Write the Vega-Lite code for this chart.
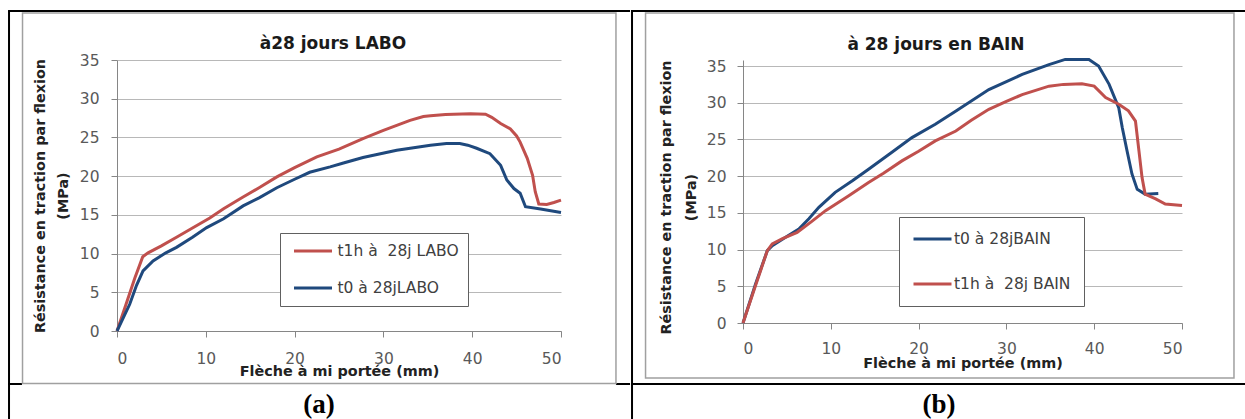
{
  "$schema": "https://vega.github.io/schema/vega-lite/v6.json",
  "padding": {"left": 7, "top": 9, "right": 0, "bottom": 0},
  "spacing": -2,
  "background": "white",
  "config": {
    "font": "DejaVu Sans",
    "view": {"stroke": null},
    "axis": {
      "domainColor": "#868686",
      "tickColor": "#868686",
      "tickSize": 6,
      "labelOverlap": false,
      "labelFont": "DejaVu Sans",
      "labelFontSize": 15.5,
      "labelColor": "#595959",
      "titleFont": "DejaVu Sans",
      "titleFontSize": 14.4,
      "titleFontWeight": "bold",
      "titleColor": "#222222",
      "gridColor": "#b8b8b8",
      "gridWidth": 1
    }
  },
  "resolve": {
    "scale": {"color": "independent"},
    "legend": {"color": "independent"}
  },
  "datasets": {
    "labo": [
      {"x": 0, "y": 0, "serie": "t1h à \u00a028j LABO"},
      {"x": 1, "y": 3.4, "serie": "t1h à \u00a028j LABO"},
      {"x": 2, "y": 6.8, "serie": "t1h à \u00a028j LABO"},
      {"x": 2.9, "y": 9.6, "serie": "t1h à \u00a028j LABO"},
      {"x": 3.5, "y": 10.1, "serie": "t1h à \u00a028j LABO"},
      {"x": 5, "y": 11, "serie": "t1h à \u00a028j LABO"},
      {"x": 6.7, "y": 12.1, "serie": "t1h à \u00a028j LABO"},
      {"x": 8.5, "y": 13.3, "serie": "t1h à \u00a028j LABO"},
      {"x": 10.45, "y": 14.6, "serie": "t1h à \u00a028j LABO"},
      {"x": 12, "y": 15.8, "serie": "t1h à \u00a028j LABO"},
      {"x": 14.2, "y": 17.3, "serie": "t1h à \u00a028j LABO"},
      {"x": 16, "y": 18.5, "serie": "t1h à \u00a028j LABO"},
      {"x": 18, "y": 19.9, "serie": "t1h à \u00a028j LABO"},
      {"x": 20, "y": 21.1, "serie": "t1h à \u00a028j LABO"},
      {"x": 22.5, "y": 22.5, "serie": "t1h à \u00a028j LABO"},
      {"x": 25, "y": 23.5, "serie": "t1h à \u00a028j LABO"},
      {"x": 27.7, "y": 24.85, "serie": "t1h à \u00a028j LABO"},
      {"x": 30, "y": 25.9, "serie": "t1h à \u00a028j LABO"},
      {"x": 31.5, "y": 26.55, "serie": "t1h à \u00a028j LABO"},
      {"x": 33, "y": 27.2, "serie": "t1h à \u00a028j LABO"},
      {"x": 34.5, "y": 27.7, "serie": "t1h à \u00a028j LABO"},
      {"x": 35.3, "y": 27.8, "serie": "t1h à \u00a028j LABO"},
      {"x": 37, "y": 27.95, "serie": "t1h à \u00a028j LABO"},
      {"x": 39.8, "y": 28.07, "serie": "t1h à \u00a028j LABO"},
      {"x": 41.5, "y": 28.0, "serie": "t1h à \u00a028j LABO"},
      {"x": 42.2, "y": 27.6, "serie": "t1h à \u00a028j LABO"},
      {"x": 43.2, "y": 26.8, "serie": "t1h à \u00a028j LABO"},
      {"x": 44.3, "y": 26.1, "serie": "t1h à \u00a028j LABO"},
      {"x": 45, "y": 25.2, "serie": "t1h à \u00a028j LABO"},
      {"x": 45.4, "y": 24.4, "serie": "t1h à \u00a028j LABO"},
      {"x": 46.2, "y": 22.3, "serie": "t1h à \u00a028j LABO"},
      {"x": 46.8, "y": 20.1, "serie": "t1h à \u00a028j LABO"},
      {"x": 47.1, "y": 18, "serie": "t1h à \u00a028j LABO"},
      {"x": 47.5, "y": 16.4, "serie": "t1h à \u00a028j LABO"},
      {"x": 48.4, "y": 16.35, "serie": "t1h à \u00a028j LABO"},
      {"x": 49.2, "y": 16.6, "serie": "t1h à \u00a028j LABO"},
      {"x": 50, "y": 16.9, "serie": "t1h à \u00a028j LABO"},
      {"x": 0, "y": 0, "serie": "t0 à 28jLABO"},
      {"x": 1.43, "y": 3.45, "serie": "t0 à 28jLABO"},
      {"x": 2.2, "y": 5.9, "serie": "t0 à 28jLABO"},
      {"x": 2.93, "y": 7.76, "serie": "t0 à 28jLABO"},
      {"x": 4.06, "y": 9.05, "serie": "t0 à 28jLABO"},
      {"x": 5.5, "y": 10.1, "serie": "t0 à 28jLABO"},
      {"x": 6.7, "y": 10.8, "serie": "t0 à 28jLABO"},
      {"x": 8.5, "y": 12.1, "serie": "t0 à 28jLABO"},
      {"x": 10.1, "y": 13.36, "serie": "t0 à 28jLABO"},
      {"x": 12, "y": 14.5, "serie": "t0 à 28jLABO"},
      {"x": 14.2, "y": 16.16, "serie": "t0 à 28jLABO"},
      {"x": 16, "y": 17.2, "serie": "t0 à 28jLABO"},
      {"x": 18, "y": 18.5, "serie": "t0 à 28jLABO"},
      {"x": 20, "y": 19.6, "serie": "t0 à 28jLABO"},
      {"x": 21.7, "y": 20.5, "serie": "t0 à 28jLABO"},
      {"x": 24, "y": 21.2, "serie": "t0 à 28jLABO"},
      {"x": 25.5, "y": 21.7, "serie": "t0 à 28jLABO"},
      {"x": 27.7, "y": 22.4, "serie": "t0 à 28jLABO"},
      {"x": 31.5, "y": 23.35, "serie": "t0 à 28jLABO"},
      {"x": 35.3, "y": 24.0, "serie": "t0 à 28jLABO"},
      {"x": 37.1, "y": 24.2, "serie": "t0 à 28jLABO"},
      {"x": 38.6, "y": 24.2, "serie": "t0 à 28jLABO"},
      {"x": 39.5, "y": 24.0, "serie": "t0 à 28jLABO"},
      {"x": 40.5, "y": 23.6, "serie": "t0 à 28jLABO"},
      {"x": 42, "y": 22.9, "serie": "t0 à 28jLABO"},
      {"x": 43.2, "y": 21.4, "serie": "t0 à 28jLABO"},
      {"x": 43.9, "y": 19.5, "serie": "t0 à 28jLABO"},
      {"x": 44.7, "y": 18.4, "serie": "t0 à 28jLABO"},
      {"x": 45.4, "y": 17.8, "serie": "t0 à 28jLABO"},
      {"x": 46, "y": 16.05, "serie": "t0 à 28jLABO"},
      {"x": 47.7, "y": 15.75, "serie": "t0 à 28jLABO"},
      {"x": 50, "y": 15.3, "serie": "t0 à 28jLABO"}
    ],
    "bain": [
      {"x": 0, "y": 0, "serie": "t0 à 28jBAIN"},
      {"x": 1.44, "y": 5.34, "serie": "t0 à 28jBAIN"},
      {"x": 2.77, "y": 9.86, "serie": "t0 à 28jBAIN"},
      {"x": 3.33, "y": 10.54, "serie": "t0 à 28jBAIN"},
      {"x": 4.85, "y": 11.67, "serie": "t0 à 28jBAIN"},
      {"x": 6.36, "y": 12.8, "serie": "t0 à 28jBAIN"},
      {"x": 7.5, "y": 14.2, "serie": "t0 à 28jBAIN"},
      {"x": 8.64, "y": 15.75, "serie": "t0 à 28jBAIN"},
      {"x": 10.5, "y": 17.8, "serie": "t0 à 28jBAIN"},
      {"x": 12.5, "y": 19.4, "serie": "t0 à 28jBAIN"},
      {"x": 14.3, "y": 20.95, "serie": "t0 à 28jBAIN"},
      {"x": 17, "y": 23.3, "serie": "t0 à 28jBAIN"},
      {"x": 19.24, "y": 25.25, "serie": "t0 à 28jBAIN"},
      {"x": 21.9, "y": 27.06, "serie": "t0 à 28jBAIN"},
      {"x": 24.3, "y": 28.9, "serie": "t0 à 28jBAIN"},
      {"x": 28, "y": 31.8, "serie": "t0 à 28jBAIN"},
      {"x": 31.8, "y": 33.85, "serie": "t0 à 28jBAIN"},
      {"x": 34.85, "y": 35.2, "serie": "t0 à 28jBAIN"},
      {"x": 36.7, "y": 35.9, "serie": "t0 à 28jBAIN"},
      {"x": 39.4, "y": 35.9, "serie": "t0 à 28jBAIN"},
      {"x": 40.5, "y": 35.0, "serie": "t0 à 28jBAIN"},
      {"x": 41.7, "y": 32.5, "serie": "t0 à 28jBAIN"},
      {"x": 42.8, "y": 29.3, "serie": "t0 à 28jBAIN"},
      {"x": 43.2, "y": 26.6, "serie": "t0 à 28jBAIN"},
      {"x": 43.75, "y": 23.4, "serie": "t0 à 28jBAIN"},
      {"x": 44.3, "y": 20.3, "serie": "t0 à 28jBAIN"},
      {"x": 44.9, "y": 18.2, "serie": "t0 à 28jBAIN"},
      {"x": 45.8, "y": 17.55, "serie": "t0 à 28jBAIN"},
      {"x": 47.3, "y": 17.65, "serie": "t0 à 28jBAIN"},
      {"x": 0, "y": 0, "serie": "t1h à \u00a028j BAIN"},
      {"x": 1.4, "y": 5.0, "serie": "t1h à \u00a028j BAIN"},
      {"x": 2.77, "y": 9.86, "serie": "t1h à \u00a028j BAIN"},
      {"x": 3.33, "y": 10.77, "serie": "t1h à \u00a028j BAIN"},
      {"x": 4.5, "y": 11.5, "serie": "t1h à \u00a028j BAIN"},
      {"x": 6.17, "y": 12.35, "serie": "t1h à \u00a028j BAIN"},
      {"x": 7.8, "y": 13.8, "serie": "t1h à \u00a028j BAIN"},
      {"x": 9.4, "y": 15.3, "serie": "t1h à \u00a028j BAIN"},
      {"x": 12, "y": 17.3, "serie": "t1h à \u00a028j BAIN"},
      {"x": 14.3, "y": 19.14, "serie": "t1h à \u00a028j BAIN"},
      {"x": 16, "y": 20.4, "serie": "t1h à \u00a028j BAIN"},
      {"x": 18.1, "y": 22.08, "serie": "t1h à \u00a028j BAIN"},
      {"x": 20, "y": 23.4, "serie": "t1h à \u00a028j BAIN"},
      {"x": 21.9, "y": 24.8, "serie": "t1h à \u00a028j BAIN"},
      {"x": 24.24, "y": 26.15, "serie": "t1h à \u00a028j BAIN"},
      {"x": 26, "y": 27.6, "serie": "t1h à \u00a028j BAIN"},
      {"x": 28, "y": 29.1, "serie": "t1h à \u00a028j BAIN"},
      {"x": 30, "y": 30.2, "serie": "t1h à \u00a028j BAIN"},
      {"x": 31.8, "y": 31.1, "serie": "t1h à \u00a028j BAIN"},
      {"x": 34.85, "y": 32.26, "serie": "t1h à \u00a028j BAIN"},
      {"x": 36.5, "y": 32.5, "serie": "t1h à \u00a028j BAIN"},
      {"x": 38.6, "y": 32.58, "serie": "t1h à \u00a028j BAIN"},
      {"x": 40, "y": 32.26, "serie": "t1h à \u00a028j BAIN"},
      {"x": 41.3, "y": 30.7, "serie": "t1h à \u00a028j BAIN"},
      {"x": 42.8, "y": 29.8, "serie": "t1h à \u00a028j BAIN"},
      {"x": 43.9, "y": 28.9, "serie": "t1h à \u00a028j BAIN"},
      {"x": 44.7, "y": 27.5, "serie": "t1h à \u00a028j BAIN"},
      {"x": 45.1, "y": 23.4, "serie": "t1h à \u00a028j BAIN"},
      {"x": 45.45, "y": 19.8, "serie": "t1h à \u00a028j BAIN"},
      {"x": 45.8, "y": 17.55, "serie": "t1h à \u00a028j BAIN"},
      {"x": 47, "y": 16.9, "serie": "t1h à \u00a028j BAIN"},
      {"x": 48.1, "y": 16.2, "serie": "t1h à \u00a028j BAIN"},
      {"x": 50, "y": 16.0, "serie": "t1h à \u00a028j BAIN"}
    ]
  },
  "hconcat": [
    {
      "width": 444,
      "height": 271,
      "layer": [
        {
          "data": {"values": [{}]},
          "mark": {"type": "rule", "color": "#000000", "strokeWidth": 2},
          "encoding": {
            "x": {"datum": -12.27, "type": "quantitative", "scale": {"domain": [0, 50], "nice": false, "zero": false}},
            "x2": {"datum": 57.77},
            "y": {"datum": 41.33, "type": "quantitative", "scale": {"domain": [0, 35], "nice": false, "zero": false}}
          }
        },
        {
          "data": {"values": [{}]},
          "mark": {"type": "rule", "color": "#000000", "strokeWidth": 2},
          "encoding": {
            "x": {"datum": -12.16, "type": "quantitative"},
            "y": {"datum": 41.33, "type": "quantitative"},
            "y2": {"datum": -11.49}
          }
        },
        {
          "data": {"values": [{}]},
          "mark": {"type": "rule", "color": "#000000", "strokeWidth": 2},
          "encoding": {
            "x": {"datum": -12.27, "type": "quantitative"},
            "x2": {"datum": -10.7},
            "y": {"datum": -6.845, "type": "quantitative"}
          }
        },
        {
          "data": {"values": [{}]},
          "mark": {"type": "rule", "color": "#000000", "strokeWidth": 2},
          "encoding": {
            "x": {"datum": 56.19, "type": "quantitative"},
            "x2": {"datum": 57.77},
            "y": {"datum": -6.845, "type": "quantitative"}
          }
        },
        {
          "data": {"values": [{}]},
          "mark": {"type": "rect", "filled": false, "stroke": "#a0a0a0", "strokeWidth": 1.5},
          "encoding": {
            "x": {"datum": -10.64, "type": "quantitative"},
            "x2": {"datum": 56.19},
            "y": {"datum": 41.07, "type": "quantitative"},
            "y2": {"datum": -6.78}
          }
        },
        {
          "data": {"name": "labo"},
          "mark": {"type": "line", "strokeWidth": 3, "clip": false},
          "encoding": {
            "x": {
              "field": "x", "type": "quantitative",
              "scale": {"domain": [0, 50], "nice": false, "zero": false},
              "axis": {
                "values": [0, 10, 20, 30, 40, 50],
                "tickCount": 12,
                "grid": false,
                "labelPadding": 14.5,
                "title": "Flèche à mi portée (mm)",
                "titleY": 40,
                "titleBaseline": "middle"
              }
            },
            "y": {
              "field": "y", "type": "quantitative",
              "scale": {"domain": [0, 35], "nice": false, "zero": false},
              "axis": {
                "values": [0, 5, 10, 15, 20, 25, 30, 35],
                "tickCount": 16,
                "grid": true,
                "labelPadding": 12,
                "title": ["Résistance en traction par flexion", "(MPa)"],
                "titleX": -77,
                "titleY": 135.5,
                "titleAngle": 270,
                "titleAlign": "center",
                "titleBaseline": "middle",
                "titleLineHeight": 23
              }
            },
            "color": {
              "field": "serie", "type": "nominal",
              "scale": {"domain": ["t1h à \u00a028j LABO", "t0 à 28jLABO"], "range": ["#C0504D", "#1F497D"]},
              "legend": {
                "orient": "none",
                "legendX": 163,
                "legendY": 173,
                "title": null,
                "symbolType": "stroke",
                "symbolSize": 1444,
                "symbolStrokeWidth": 3,
                "symbolOffset": 3.5,
                "clipHeight": 18,
                "labelFont": "DejaVu Sans",
                "labelFontSize": 15.5,
                "labelColor": "#404040",
                "labelOffset": 4,
                "padding": 9,
                "rowPadding": 19,
                "strokeColor": "#606060",
                "fillColor": "#ffffff"
              }
            }
          }
        },
        {
          "data": {"values": [{}]},
          "mark": {"type": "text", "font": "DejaVu Sans", "fontSize": 17, "fontWeight": "bold", "color": "#1a1a1a", "align": "center", "baseline": "alphabetic"},
          "encoding": {
            "x": {"datum": 24.32, "type": "quantitative"},
            "y": {"datum": 36.46, "type": "quantitative"},
            "text": {"value": "à28 jours LABO"}
          }
        },
        {
          "data": {"values": [{}]},
          "mark": {"type": "text", "font": "Liberation Serif", "fontSize": 27, "fontWeight": "bold", "color": "#000000", "align": "center", "baseline": "alphabetic"},
          "encoding": {
            "x": {"datum": 22.75, "type": "quantitative"},
            "y": {"datum": -10.59, "type": "quantitative"},
            "text": {"value": "(a)"}
          }
        }
      ]
    },
    {
      "width": 439,
      "height": 263,
      "layer": [
        {
          "data": {"values": [{}]},
          "mark": {"type": "rule", "color": "#000000", "strokeWidth": 2},
          "encoding": {
            "x": {"datum": -12.76, "type": "quantitative", "scale": {"domain": [0, 50], "nice": false, "zero": false}},
            "x2": {"datum": 57.29},
            "y": {"datum": 42.49, "type": "quantitative", "scale": {"domain": [0, 35.82], "nice": false, "zero": false}}
          }
        },
        {
          "data": {"values": [{}]},
          "mark": {"type": "rule", "color": "#000000", "strokeWidth": 2},
          "encoding": {
            "x": {"datum": -12.64, "type": "quantitative"},
            "y": {"datum": 42.49, "type": "quantitative"},
            "y2": {"datum": -13.21}
          }
        },
        {
          "data": {"values": [{}]},
          "mark": {"type": "rule", "color": "#000000", "strokeWidth": 2},
          "encoding": {
            "x": {"datum": -12.76, "type": "quantitative"},
            "x2": {"datum": 57.29},
            "y": {"datum": -8.31, "type": "quantitative"}
          }
        },
        {
          "data": {"values": [{}]},
          "mark": {"type": "rect", "filled": false, "stroke": "#a0a0a0", "strokeWidth": 1.5},
          "encoding": {
            "x": {"datum": -11.1, "type": "quantitative"},
            "x2": {"datum": 55.92},
            "y": {"datum": 42.22, "type": "quantitative"},
            "y2": {"datum": -7.49}
          }
        },
        {
          "data": {"name": "bain"},
          "mark": {"type": "line", "strokeWidth": 3, "clip": false},
          "encoding": {
            "x": {
              "field": "x", "type": "quantitative",
              "scale": {"domain": [0, 50], "nice": false, "zero": false},
              "axis": {
                "values": [0, 10, 20, 30, 40, 50],
                "tickCount": 12,
                "grid": false,
                "labelPadding": 12.8,
                "title": "Flèche à mi portée (mm)",
                "titleY": 40.3,
                "titleBaseline": "middle"
              }
            },
            "y": {
              "field": "y", "type": "quantitative",
              "scale": {"domain": [0, 35.82], "nice": false, "zero": false},
              "axis": {
                "values": [0, 5, 10, 15, 20, 25, 30, 35],
                "tickCount": 16,
                "grid": true,
                "labelPadding": 11,
                "title": ["Résistance en traction par flexion", "(MPa)"],
                "titleX": -77,
                "titleY": 137,
                "titleAngle": 270,
                "titleAlign": "center",
                "titleBaseline": "middle",
                "titleLineHeight": 25
              }
            },
            "color": {
              "field": "serie", "type": "nominal",
              "scale": {"domain": ["t0 à 28jBAIN", "t1h à \u00a028j BAIN"], "range": ["#1F497D", "#C0504D"]},
              "legend": {
                "orient": "none",
                "legendX": 156,
                "legendY": 157,
                "title": null,
                "symbolType": "stroke",
                "symbolSize": 1444,
                "symbolStrokeWidth": 3,
                "symbolOffset": 0,
                "clipHeight": 18,
                "labelFont": "DejaVu Sans",
                "labelFontSize": 15.5,
                "labelColor": "#404040",
                "labelOffset": 1,
                "padding": 13,
                "rowPadding": 27,
                "strokeColor": "#606060",
                "fillColor": "#ffffff"
              }
            }
          }
        },
        {
          "data": {"values": [{}]},
          "mark": {"type": "text", "font": "DejaVu Sans", "fontSize": 17, "fontWeight": "bold", "color": "#1a1a1a", "align": "center", "baseline": "alphabetic"},
          "encoding": {
            "x": {"datum": 21.98, "type": "quantitative"},
            "y": {"datum": 37.14, "type": "quantitative"},
            "text": {"value": "à 28 jours en BAIN"}
          }
        },
        {
          "data": {"values": [{}]},
          "mark": {"type": "text", "font": "Liberation Serif", "fontSize": 27, "fontWeight": "bold", "color": "#000000", "align": "center", "baseline": "alphabetic"},
          "encoding": {
            "x": {"datum": 22.32, "type": "quantitative"},
            "y": {"datum": -12.26, "type": "quantitative"},
            "text": {"value": "(b)"}
          }
        }
      ]
    }
  ]
}
